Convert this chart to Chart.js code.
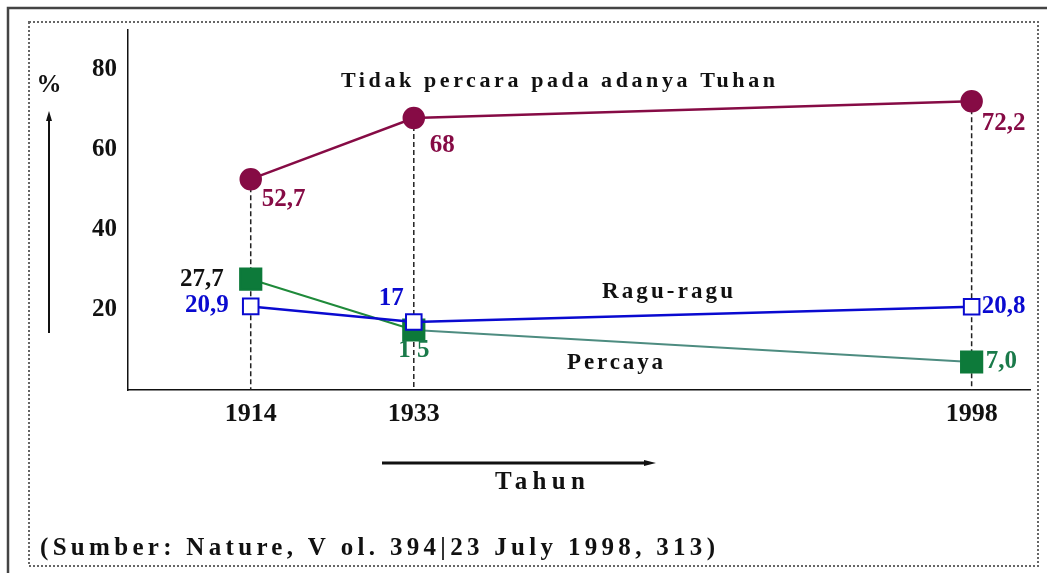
<!DOCTYPE html>
<html>
<head>
<meta charset="utf-8">
<script src="https://cdn.jsdelivr.net/npm/chart.js@4.4.1/dist/chart.umd.min.js"></script>
<style>
  body { margin: 0; background: #fff; }
  #wrap { width: 1047px; height: 573px; position: relative; }
</style>
</head>
<body>
<div id="wrap"><canvas id="myChart"></canvas></div>
<script>
// Data
const years = [1914, 1933, 1998];
const tidakPercaya = [52.7, 68, 72.2];
const raguRagu = [20.9, 17, 20.8];
const percaya = [27.7, 15, 7.0];
const yTicks = [20, 40, 60, 80];

const serif = '"Liberation Serif", "Times New Roman", serif';
const maroon = '#860b45';
const blue = '#0a0ad0';
const green = '#0d7a3a';

function pts(vals) {
    return years.map((y, i) => ({ x: y, y: vals[i] }));
}

// spread text so it covers x1..x2
function fitText(ctx, text, x1, x2, cy, font, color) {
    ctx.font = font;
    ctx.letterSpacing = '0px';
    const w = ctx.measureText(text).width;
    const sp = Math.max(0, (x2 - x1 - w) / (text.length - 1));
    ctx.letterSpacing = sp + 'px';
    ctx.fillStyle = color;
    ctx.textAlign = 'left';
    ctx.textBaseline = 'middle';
    ctx.fillText(text, x1, cy);
    ctx.letterSpacing = '0px';
}

// value labels: [dataset index, point index, text, dx, dy, align, color]
const valueLabels = [
    [0, 0, '52,7', 11, 20, 'left', maroon],
    [0, 1, '68', 16, 28, 'left', maroon],
    [0, 2, '72,2', 10, 22, 'left', maroon],
    [1, 0, '20,9', -22, -1, 'right', blue],
    [1, 1, '17', -10, -23, 'right', blue],
    [1, 2, '20,8', 10, 0, 'left', blue],
    [2, 0, '27,7', -27, 0, 'right', '#111'],
    [2, 1, '1 5', 0, 21, 'center', '#1a7a4a'],
    [2, 2, '7,0', 14, 0, 'left', '#1a7a4a']
];

const decorPlugin = {
    id: 'decor',
    beforeDatasetsDraw(chart) {
        const ctx = chart.ctx;
        const x = chart.scales.x, y = chart.scales.y;
        ctx.save();
        // outer frame
        ctx.strokeStyle = '#444';
        ctx.lineWidth = 2.5;
        ctx.beginPath();
        ctx.moveTo(8, 573); ctx.lineTo(8, 8); ctx.lineTo(1047, 8);
        ctx.stroke();
        // dotted frame
        ctx.strokeStyle = '#666';
        ctx.lineWidth = 2;
        ctx.setLineDash([2, 2]);
        ctx.strokeRect(29, 22, 1009, 544);
        // dashed drop lines
        ctx.strokeStyle = '#222';
        ctx.lineWidth = 1.5;
        ctx.setLineDash([5, 3]);
        years.forEach((yr, i) => {
            const top = Math.max(tidakPercaya[i], raguRagu[i], percaya[i]);
            const px = x.getPixelForValue(yr);
            ctx.beginPath();
            ctx.moveTo(px, y.getPixelForValue(top));
            ctx.lineTo(px, y.getPixelForValue(0));
            ctx.stroke();
        });
        ctx.restore();
    },
    afterDraw(chart) {
        const ctx = chart.ctx;
        ctx.save();
        // value labels
        ctx.font = 'bold 25px ' + serif;
        ctx.textBaseline = 'middle';
        valueLabels.forEach(l => {
            const el = chart.getDatasetMeta(l[0]).data[l[1]];
            ctx.fillStyle = l[6];
            ctx.textAlign = l[5];
            ctx.fillText(l[2], el.x + l[3], el.y + l[4]);
        });

        // series names
        fitText(ctx, 'Tidak percara pada adanya Tuhan', 341, 775, 81, 'bold 22px ' + serif, '#111');
        fitText(ctx, 'Ragu-ragu', 602, 733, 292, 'bold 23px ' + serif, '#111');
        fitText(ctx, 'Percaya', 567, 663, 363, 'bold 23px ' + serif, '#111');

        // axis names and arrows
        ctx.fillStyle = '#111';
        ctx.font = 'bold 25px ' + serif;
        ctx.textAlign = 'center';
        ctx.fillText('%', 49, 86);
        ctx.strokeStyle = '#111';
        ctx.lineWidth = 2;
        ctx.beginPath();
        ctx.moveTo(49, 333); ctx.lineTo(49, 118);
        ctx.stroke();
        ctx.beginPath();
        ctx.moveTo(49, 111); ctx.lineTo(46, 121); ctx.lineTo(52, 121); ctx.closePath();
        ctx.fill();

        ctx.lineWidth = 3;
        ctx.beginPath();
        ctx.moveTo(382, 463); ctx.lineTo(648, 463);
        ctx.stroke();
        ctx.beginPath();
        ctx.moveTo(656, 463); ctx.lineTo(644, 460); ctx.lineTo(644, 466); ctx.closePath();
        ctx.fill();

        fitText(ctx, 'Tahun', 495, 585, 483, 'bold 25px ' + serif, '#111');
        fitText(ctx, '(Sumber: Nature, V ol. 394|23 July 1998, 313)', 40, 715, 549, 'bold 25px ' + serif, '#111');
        ctx.restore();
    }
};

const ctx = document.getElementById('myChart').getContext('2d');
window.myChart = new Chart(ctx, {
    type: 'line',
    data: {
        datasets: [
            {
                label: 'Tidak percara pada adanya Tuhan',
                data: pts(tidakPercaya),
                borderColor: maroon,
                backgroundColor: maroon,
                borderWidth: 2.5,
                pointStyle: 'circle',
                pointRadius: 10,
                order: 1
            },
            {
                label: 'Ragu-ragu',
                data: pts(raguRagu),
                borderColor: blue,
                backgroundColor: '#fff',
                borderWidth: 2.5,
                pointStyle: 'rect',
                pointRadius: 11,
                pointBorderWidth: 2,
                order: 0
            },
            {
                label: 'Percaya',
                data: pts(percaya),
                borderColor: green,
                backgroundColor: green,
                borderWidth: 2,
                pointStyle: 'rect',
                pointRadius: 15,
                segment: {
                    borderColor: c => c.p0DataIndex === 0 ? '#1f8a3a' : '#4d8c80'
                },
                order: 2
            }
        ]
    },
    options: {
        responsive: true,
        maintainAspectRatio: false,
        animation: false,
        layout: { padding: { left: 28, top: 30, right: 16, bottom: 133 } },
        plugins: {
            legend: { display: false },
            tooltip: { enabled: false }
        },
        scales: {
            x: {
                type: 'linear',
                min: 1899.7,
                max: 2004.8,
                afterBuildTicks: s => { s.ticks = years.map(v => ({ value: v })); },
                afterFit: s => { s.height = 50; },
                grid: { display: false, drawTicks: false },
                border: { display: true, color: '#111', width: 1.5 },
                ticks: {
                    color: '#111',
                    padding: 9,
                    maxRotation: 0,
                    font: { family: serif, size: 26, weight: 'bold' },
                    callback: v => String(v)
                }
            },
            y: {
                min: 0,
                max: 90,
                afterBuildTicks: s => { s.ticks = yTicks.map(v => ({ value: v })); },
                afterFit: s => { s.width = 100; },
                grid: { display: false, drawTicks: false },
                border: { display: true, color: '#111', width: 1.5 },
                ticks: {
                    color: '#111',
                    padding: 11,
                    font: { family: serif, size: 25, weight: 'bold' }
                }
            }
        }
    },
    plugins: [decorPlugin]
});
</script>
</body>
</html>
